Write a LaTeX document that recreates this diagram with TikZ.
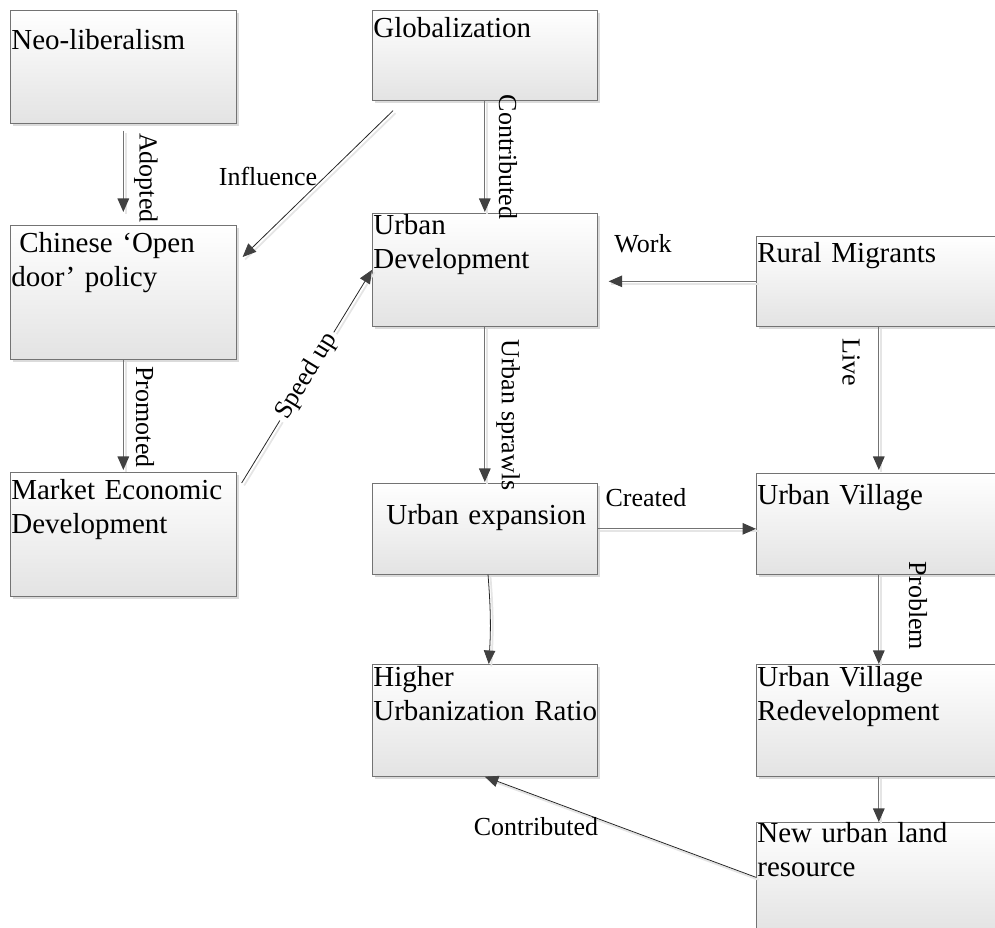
\documentclass[tikz,border=0pt]{standalone}
\usepackage{fontspec}
\setmainfont{Liberation Serif}
\usetikzlibrary{arrows.meta,shadows,positioning}
\tikzset{
	box/.style 		= {draw = black!55, top color = white, bottom color = black!11,
		drop shadow = {shadow xshift = 0.06cm, shadow yshift = -0.06cm, fill = black!14, opacity = 1},
		anchor = north west, inner sep = 0, minimum width = 4.5cm},
	boxtext/.style 	= {anchor = base west, inner sep = 0, text width = 5cm, align = left,
		font = \fontsize{16.5}{19.3}\selectfont},
	link/.style 	= {draw = black!55, line width = 0.7pt,
		-{Triangle[length = 2.7mm, width = 2.3mm, color = black!75]},
		preaction = {-, draw = black!10, line width = 1pt,
			transform canvas = {shift = {(0.05cm,-0.05cm)}}}},
	thin link/.style = {link, draw = black!85, line width = 0.45pt},
	note/.style 	= {inner sep = 0, font = \fontsize{14.8}{17}\selectfont},
}

\begin{document}
\begin{tikzpicture}[x = 0.02cm, y = -0.02cm]
\useasboundingbox (0,0) rectangle (995,928);
\clip (0,0) rectangle (995,928);
% left column
\node[box, minimum width = 4.52cm, minimum height = 2.26cm] (neo) at (10,10) {};
\node[box, minimum width = 4.52cm, minimum height = 2.68cm] (open) at (10,225) {};
\node[box, minimum width = 4.52cm, minimum height = 2.48cm] (market) at (10,472) {};
% middle column
\node[box, minimum height = 1.8cm] (glob) at (372,10) {};
\node[box, minimum height = 2.26cm] (urbdev) at (372,213) {};
\node[box, minimum height = 1.82cm] (expansion) at (372,483) {};
\node[box, minimum height = 2.24cm] (higher) at (372,664) {};
% right column
\node[box, minimum width = 4.9cm, minimum height = 1.8cm] (rural) at (756,236) {};
\node[box, minimum width = 4.9cm, minimum height = 2.02cm] (village) at (756,473) {};
\node[box, minimum width = 4.9cm, minimum height = 2.24cm] (redev) at (756,664) {};
\node[box, minimum width = 4.9cm, minimum height = 2.2cm] (newland) at (756,822) {};

% box texts
\node[boxtext] (tneo) at ([shift = {(1,40)}]neo.north west) {Neo-liberalism};
\node[boxtext] (topen) at ([shift = {(1,28)}]open.north west) {\hspace*{0.16cm}Chinese ‘Open\\door’ policy};
\node[boxtext] (tmarket) at ([shift = {(1,28)}]market.north west) {Market Economic\\Development};
\node[boxtext] (tglob) at ([shift = {(1,28)}]glob.north west) {Globalization};
\node[boxtext] (turbdev) at ([shift = {(1,22)}]urbdev.north west) {Urban\\Development};
\node[boxtext] (texpansion) at ([shift = {(14,42)}]expansion.north west) {Urban expansion};
\node[boxtext] (thigher) at ([shift = {(1,23)}]higher.north west) {Higher\\Urbanization Ratio};
\node[boxtext] (trural) at ([shift = {(1,27)}]rural.north west) {Rural Migrants};
\node[boxtext] (tvillage) at ([shift = {(1,32)}]village.north west) {Urban Village};
\node[boxtext] (tredev) at ([shift = {(1,23)}]redev.north west) {Urban Village\\Redevelopment};
\node[boxtext] (tnewland) at ([shift = {(1,21)}]newland.north west) {New urban land\\resource};

% connectors
\draw[link, shorten < = 0.14cm, shorten > = 0.26cm] (neo) -- (open);
\node[note, rotate = -90] (adopted) at (146,178) {Adopted};
\draw[link, shorten > = 0.04cm] (open) -- (market);
\node[note, rotate = -90] (promoted) at (145,417) {Promoted};
\draw[thin link] ([shift = {(21,10)}]glob.south west) -- ([shift = {(6,32)}]open.north east);
\node[note] (influence) at (268,176) {Influence};
\draw[link, shorten > = 0.02cm] (glob) -- (urbdev);
\node[note, rotate = -90] (contrib1) at (508,157) {Contributed};
\draw[thin link] ([shift = {(5,11)}]market.north east) --
	node[note, sloped, fill = white, inner sep = 2pt] (speed) {Speed up} (urbdev.west);
\draw[link, shorten > = 0.22cm] (rural.west) -- (rural.west -| urbdev.east);
\node[note] (work) at (643,244) {Work};
\draw[link, shorten > = 0.02cm] (urbdev) -- (expansion);
\node[note, rotate = -90] (sprawls) at (508,415) {Urban sprawls};
\draw[link, shorten > = 0.06cm] (rural) -- (village);
\node[note, rotate = -90] (live) at (851,362) {Live};
\draw[link] (expansion.east) -- (expansion.east -| village.west);
\node[note] (created) at (646,498) {Created};
\draw[thin link] (expansion) to[bend left = 4] (higher);
\draw[link] (village) -- (redev);
\node[note, rotate = -90] (problem) at (918,606) {Problem};
\draw[link] (redev) -- (newland);
\draw[thin link] (newland.west) -- (higher.south);
\node[note] (contrib2) at (536,827) {Contributed};
\end{tikzpicture}
\end{document}
